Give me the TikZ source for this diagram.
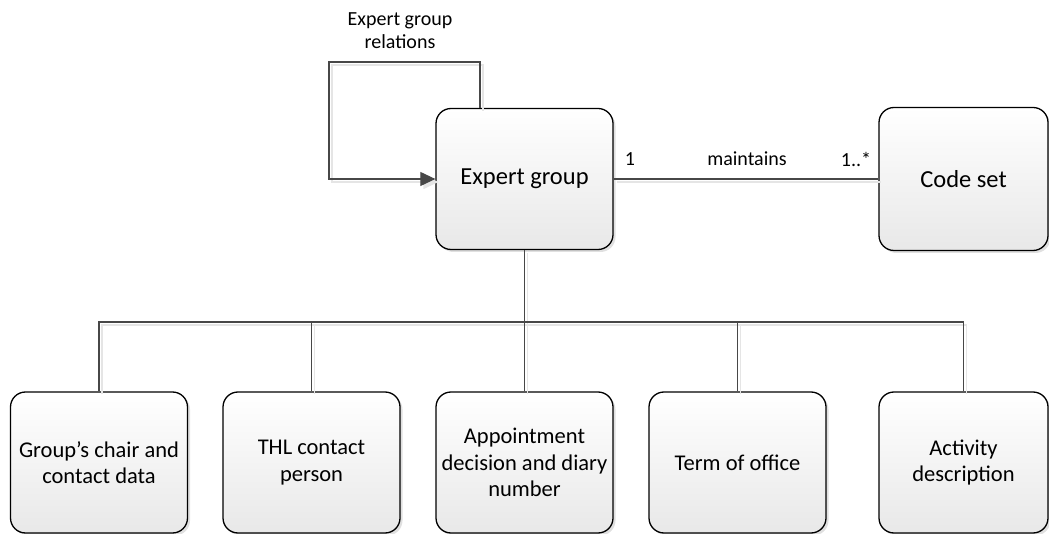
\documentclass[tikz,border=0pt]{standalone}
\usepackage{fontspec}
\setmainfont{Carlito}
\usetikzlibrary{arrows.meta,shadows}
\begin{document}
\begin{tikzpicture}[x=1pt,y=-1pt,
  entity/.style={draw=black, line width=1.3pt, rounded corners=15pt,
    top color=white, bottom color=black!9,
    minimum width=177pt, minimum height=141pt, inner sep=0pt, align=center,
    font=\fontsize{22.5}{26.5}\selectfont,
    drop shadow={shadow xshift=2.5pt, shadow yshift=-2.5pt, fill=black!12, opacity=1}},
  mainentity/.style={entity, font=\fontsize{24.5}{28}\selectfont},
  link/.style={draw=black!72, line width=1.1pt,
    preaction={draw=black!10, line width=1.4pt, transform canvas={xshift=3pt,yshift=-3pt}}},
  lbl/.style={font=\fontsize{20}{23}\selectfont, align=center, inner sep=0pt}]
\useasboundingbox (0,0) rectangle (1049,534);

% main entities
\node[mainentity] (eg) at (524.5,179) {Expert group};
\node[mainentity, minimum width=169pt, minimum height=143pt] (cs) at (963.5,179) {Code set};

% attributes of an expert group
\node[entity] (b1) at (99,462.5)  {Group’s chair and\\contact data};
\node[entity] (b2) at (311.5,462.5) {THL contact\\person};
\node[entity] (b3) at (524.5,462.5) {Appointment\\decision and diary\\number};
\node[entity] (b4) at (737.5,462.5) {Term of office};
\node[entity, minimum width=169pt] (b5) at (963.5,462.5) {Activity\\description};

% self relation
\coordinate (loopcorner) at (329,62);
\draw[link, -{Triangle[length=15pt,width=14pt]}]
  ([xshift=-44.5pt]eg.north) |- (loopcorner) |- (eg.west);
\node[lbl] (rel) at (400,31) {Expert group\\relations};

% association to code set
\draw[link] (eg.east) -- (cs.west);
\node[lbl] (m1) at (630,159) {1};
\node[lbl] (mn) at (747,159) {maintains};
\node[lbl] (mm) at (856,159) {1..*};

% tree to attributes
\coordinate (bus) at (524.5,322);
\draw[link] (eg.south) -- (bus);
\draw[link] (b1.north) |- (bus) -| (b5.north);
\foreach \b in {b2,b3,b4}
  \draw[link] (\b.north) -- (\b.north |- bus);
\end{tikzpicture}
\end{document}
